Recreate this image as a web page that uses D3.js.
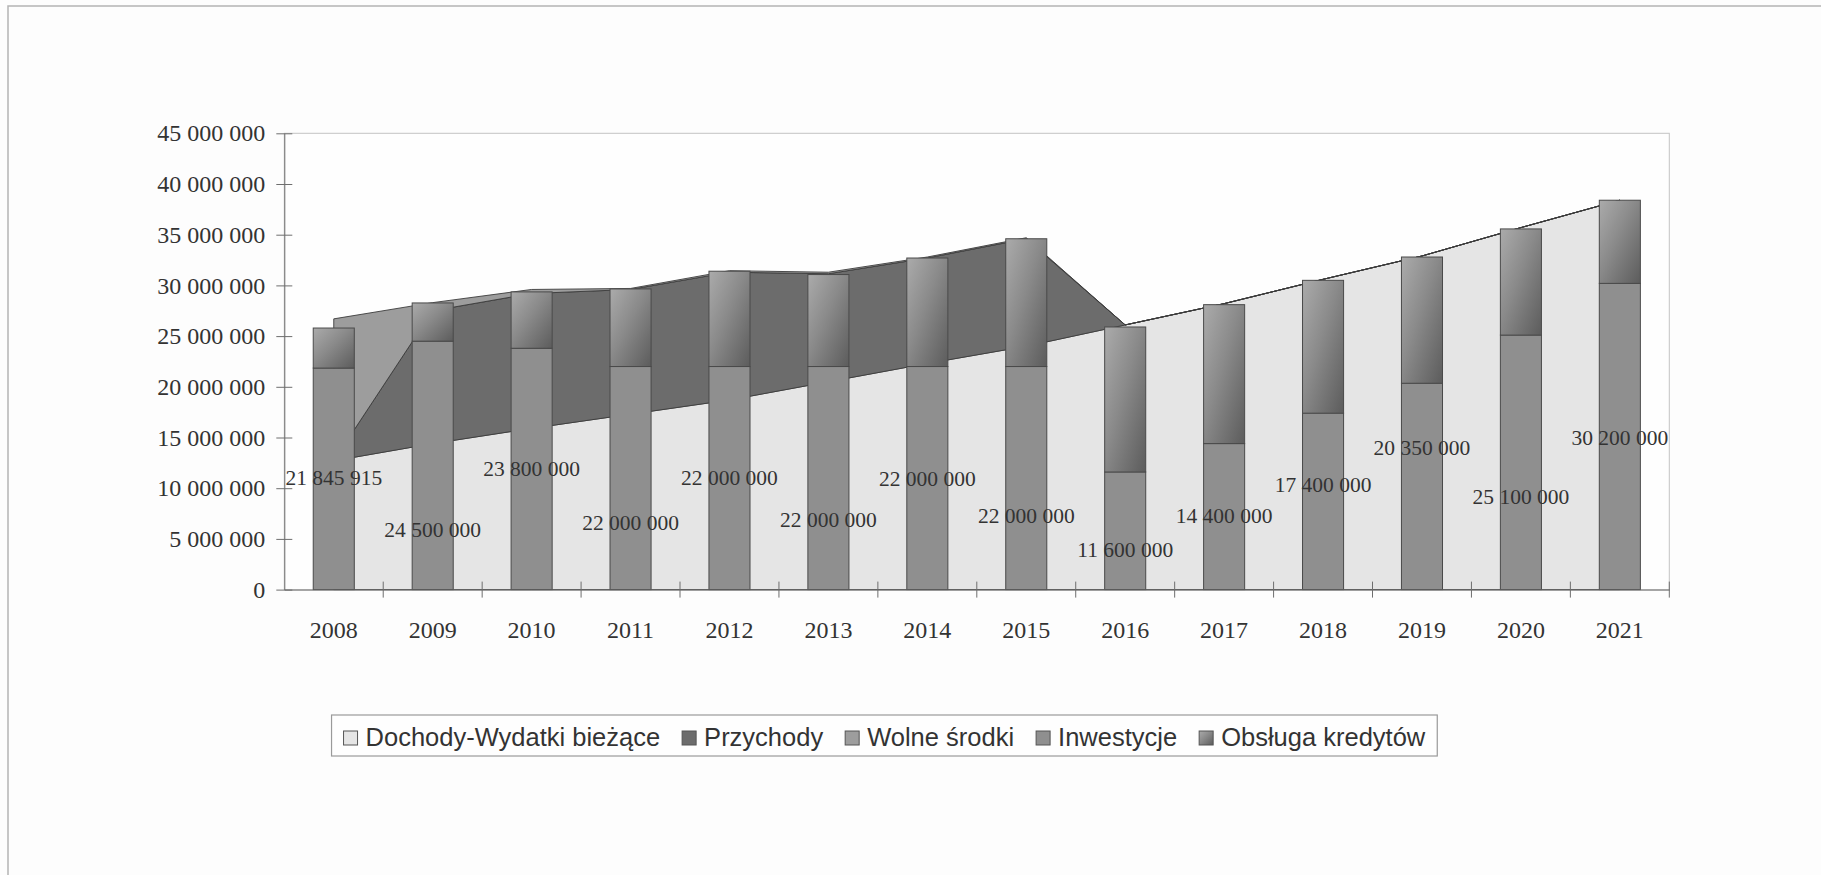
<!DOCTYPE html>
<html lang="pl">
<head>
<meta charset="utf-8">
<title>Prognoza</title>
<script src="https://cdn.jsdelivr.net/npm/d3@7"></script>
<style>
  body { margin: 0; background: #fdfdfd; }
  svg { display: block; }
</style>
</head>
<body>
<script>
// lata i serie
var years = ["2008","2009","2010","2011","2012","2013","2014","2015","2016","2017","2018","2019","2020","2021"];
var dochody = [12700000,14400000,15900000,17300000,18700000,20500000,22300000,24000000,26100000,28200000,30600000,32900000,35700000,38400000];
var przychody = [0,13100000,13300000,12300000,12600000,10650000,10400000,10600000,0,0,0,0,0,0];
var wolneSrodki = [14000000,800000,400000,100000,150000,150000,100000,100000,0,0,0,0,0,0];
var inwestycje = [21845915,24500000,23800000,22000000,22000000,22000000,22000000,22000000,11600000,14400000,17400000,20350000,25100000,30200000];
var obslugaKredytow = [3950000,3770000,5560000,7650000,9400000,9070000,10700000,12600000,14300000,13700000,13100000,12450000,10470000,8200000];
var yTicks = [0,5000000,10000000,15000000,20000000,25000000,30000000,35000000,40000000,45000000];
var legendNames = ["Dochody-Wydatki bieżące","Przychody","Wolne środki","Inwestycje","Obsługa kredytów"];

// gdzie stoja etykiety wartosci (w jednostkach osi y)
var labelAt = [10320000,5220000,11230000,5880000,10320000,6200000,10220000,6600000,3240000,6540000,9650000,13270000,8440000,14260000];

var W = 1821, H = 875;
var plot = {left: 284.3, right: 1669.3, top: 133.3, bottom: 589.6};

var svg = d3.select("body").append("svg")
    .attr("width", W)
    .attr("height", H);

var defs = svg.append("defs");
var grad = defs.append("linearGradient")
    .attr("id", "obsluga")
    .attr("x1", "0").attr("y1", "0")
    .attr("x2", "1").attr("y2", "1");
grad.append("stop").attr("offset", "0").attr("stop-color", "#ababab");
grad.append("stop").attr("offset", "0.45").attr("stop-color", "#8a8a8a");
grad.append("stop").attr("offset", "1").attr("stop-color", "#5c5c5c");

// ramka
svg.append("rect")
    .attr("x", 8).attr("y", 6)
    .attr("width", W).attr("height", H)
    .attr("fill", "#fdfdfd")
    .attr("stroke", "#b4b4b4")
    .attr("stroke-width", 1.5);

var xScale = d3.scaleBand()
    .domain(years)
    .range([plot.left, plot.right])
    .padding(0);

var yScale = d3.scaleLinear()
    .domain([0, 45000000])
    .range([plot.bottom, plot.top]);

var fmt = d3.formatLocale({decimal: ",", thousands: " ", grouping: [3], currency: ["", " zł"]}).format(",d");

// tlo obszaru wykresu
svg.append("rect")
    .attr("x", plot.left).attr("y", plot.top)
    .attr("width", plot.right - plot.left)
    .attr("height", plot.bottom - plot.top)
    .attr("fill", "#fefefe")
    .attr("stroke", "#c4c4c4")
    .attr("stroke-width", 1);

// warstwowe obszary
var areaRows = years.map(function(y, i) {
    return {year: y, d: dochody[i], p: przychody[i], w: wolneSrodki[i]};
});
var stack = d3.stack().keys(["d", "p", "w"]);
var layers = stack(areaRows);
var areaColors = ["#e5e5e5", "#6c6c6c", "#9d9d9d"];

var area = d3.area()
    .x(function(d) { return xScale(d.data.year) + xScale.bandwidth() / 2; })
    .y0(function(d) { return yScale(d[0]); })
    .y1(function(d) { return yScale(d[1]); });

svg.append("g")
    .selectAll("path")
    .data(layers)
    .enter()
    .append("path")
    .attr("d", area)
    .attr("fill", function(d, i) { return areaColors[i]; })
    .attr("stroke", "#3c3c3c")
    .attr("stroke-width", 0.9)
    .attr("stroke-linejoin", "round");

// slupki
var barW = xScale.bandwidth() * 0.415;
var bars = svg.append("g");

bars.selectAll("rect.inw")
    .data(years)
    .enter()
    .append("rect")
    .attr("class", "inw")
    .attr("x", function(d) { return xScale(d) + (xScale.bandwidth() - barW) / 2; })
    .attr("y", function(d, i) { return yScale(inwestycje[i]); })
    .attr("width", barW)
    .attr("height", function(d, i) { return yScale(0) - yScale(inwestycje[i]); })
    .attr("fill", "#8f8f8f")
    .attr("stroke", "#4a4a4a")
    .attr("stroke-width", 1);

bars.selectAll("rect.obs")
    .data(years)
    .enter()
    .append("rect")
    .attr("class", "obs")
    .attr("x", function(d) { return xScale(d) + (xScale.bandwidth() - barW) / 2; })
    .attr("y", function(d, i) { return yScale(inwestycje[i] + obslugaKredytow[i]); })
    .attr("width", barW)
    .attr("height", function(d, i) { return yScale(inwestycje[i]) - yScale(inwestycje[i] + obslugaKredytow[i]); })
    .attr("fill", "url(#obsluga)")
    .attr("stroke", "#4a4a4a")
    .attr("stroke-width", 1);

// osie
var yAxis = d3.axisLeft(yScale)
    .tickValues(yTicks)
    .tickFormat(fmt)
    .tickSizeInner(8)
    .tickSizeOuter(0)
    .tickPadding(11);

var gy = svg.append("g")
    .attr("transform", "translate(" + plot.left + ",0)")
    .call(yAxis);
gy.select(".domain").attr("stroke", "#6e6e6e");
gy.selectAll(".tick line").attr("x1", 8).attr("stroke", "#6e6e6e");
gy.selectAll("text")
    .attr("font-family", "'Liberation Serif', 'Times New Roman', serif")
    .attr("font-size", 24)
    .attr("fill", "#333");

var xAxis = d3.axisBottom(xScale)
    .tickSize(0)
    .tickPadding(0);

var gx = svg.append("g")
    .attr("transform", "translate(0," + plot.bottom + ")")
    .call(xAxis);
gx.select(".domain").attr("stroke", "#6e6e6e");
gx.selectAll("text")
    .attr("y", 48)
    .attr("dy", 0)
    .attr("font-family", "'Liberation Serif', 'Times New Roman', serif")
    .attr("font-size", 24)
    .attr("fill", "#333");

// kreski miedzy kategoriami
gx.selectAll("line.sep")
    .data(years.slice(1).concat(["end"]))
    .enter()
    .append("line")
    .attr("class", "sep")
    .attr("x1", function(d) { return d === "end" ? plot.right : xScale(d); })
    .attr("x2", function(d) { return d === "end" ? plot.right : xScale(d); })
    .attr("y1", -8)
    .attr("y2", 8)
    .attr("stroke", "#6e6e6e");

// etykiety wartosci
svg.append("g")
    .selectAll("text")
    .data(years)
    .enter()
    .append("text")
    .attr("x", function(d) { return xScale(d) + xScale.bandwidth() / 2; })
    .attr("y", function(d, i) { return yScale(labelAt[i]); })
    .attr("text-anchor", "middle")
    .attr("font-family", "'Liberation Serif', 'Times New Roman', serif")
    .attr("font-size", 21.5)
    .attr("fill", "#333")
    .text(function(d, i) { return fmt(inwestycje[i]); });

// legenda
var legendFills = ["#e5e5e5", "#6c6c6c", "#9d9d9d", "#8f8f8f", "url(#obsluga)"];
var legend = svg.append("g");
var box = legend.append("rect")
    .attr("y", 715).attr("height", 41)
    .attr("fill", "#fefefe")
    .attr("stroke", "#9a9a9a")
    .attr("stroke-width", 1.2);

var cursor = 0;
var gap = 22;
var items = legend.selectAll("g.item")
    .data(legendNames)
    .enter()
    .append("g")
    .attr("class", "item");
items.append("rect")
    .attr("y", 731)
    .attr("width", 14).attr("height", 14)
    .attr("fill", function(d, i) { return legendFills[i]; })
    .attr("stroke", "#555")
    .attr("stroke-width", 1);
items.append("text")
    .attr("y", 746)
    .attr("font-family", "'Liberation Sans', Arial, sans-serif")
    .attr("font-size", 25.5)
    .attr("fill", "#333")
    .text(function(d) { return d; });

items.each(function() {
    var g = d3.select(this);
    var tw = g.select("text").node().getComputedTextLength();
    g.select("rect").attr("x", cursor);
    g.select("text").attr("x", cursor + 22);
    cursor += 22 + tw + gap;
});
var total = cursor - gap;
var startX = 884.4 - total / 2;
items.attr("transform", "translate(" + startX + ",0)");
box.attr("x", startX - 12).attr("width", total + 24);
</script>
</body>
</html>
